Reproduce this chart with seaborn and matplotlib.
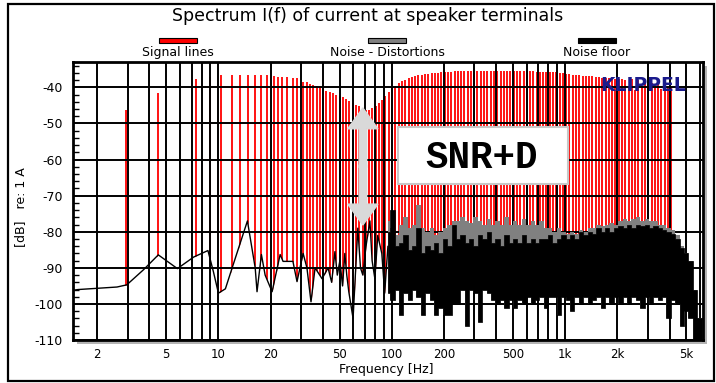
import numpy as np
import matplotlib
matplotlib.use("Agg")
import matplotlib.pyplot as plt
import seaborn as sns
from matplotlib.patches import Rectangle, FancyArrow
from matplotlib.ticker import FixedLocator, LogLocator, MultipleLocator, NullFormatter

# multitone signal lines (Hz, dB)
tone_freq = [2.94, 4.5, 7.4, 8.9, 10.4, 11.9, 13.4, 14.8, 16.3, 17.7, 19.1, 20.8, 22.2, 23.4, 24.8, 27.1, 28.3, 30.9, 32.3,
             33.7, 35.2, 36.8, 38.5, 40.2, 42.0, 43.8, 45.8, 47.8, 50.0, 52.2, 54.5, 57.0, 59.5, 62.2, 64.9, 67.8, 70.8,
             74.0, 77.3, 80.7, 84.3, 88.1, 92.0, 96.1,
             100.4, 104.9, 109.6, 114.5, 119.6, 124.9, 130.5, 136.3, 142.4, 148.7, 155.3, 162.3, 169.5, 177.1, 185.0, 193.2,
             201.8, 210.8, 220.2, 230.1, 240.3, 251.0, 262.2, 273.9, 286.2, 298.9, 312.2, 326.2, 340.7, 355.9, 371.8, 388.4,
             405.7, 423.8, 442.7, 462.4, 483.1, 504.6, 527.1, 550.6, 575.2, 600.8, 627.6, 655.6, 684.9, 715.4, 747.3,
             780.6, 815.5, 851.8, 889.8, 929.5, 971.0,
             1014, 1059, 1107, 1156, 1208, 1262, 1318, 1377, 1438, 1502, 1569, 1639, 1712, 1789, 1868, 1952,
             2039, 2130, 2225, 2324, 2428, 2536, 2649, 2767, 2891, 3020, 3154, 3295, 3442, 3596, 3756, 3924, 4099]
tone_level = [-46.2, -41.6, -37.8, -37.1, -36.7, -36.7, -36.7, -36.7, -36.7, -36.7, -36.7, -37.0, -37.1, -37.1, -37.1,
              -37.3, -37.5, -38.4, -38.6,
              -39.0, -39.4, -39.6, -40.0, -40.5, -41.0, -41.3, -41.7, -42.0, -42.4, -42.7, -43.1, -43.7, -44.3, -44.8,
              -45.3, -45.9, -46.4, -46.3, -45.8, -45.2, -44.4, -43.5, -42.3, -41.2,
              -40.2, -39.6, -38.8, -38.3, -37.9, -37.5, -37.2, -37.0, -36.7, -36.5, -36.3, -36.2, -36.1, -36.0, -35.9, -35.8,
              -35.8, -35.7, -35.7, -35.6, -35.6, -35.5, -35.5, -35.6, -35.5, -35.5, -35.6, -35.5, -35.5, -35.6, -35.5, -35.5,
              -35.5, -35.6, -35.5, -35.5, -35.6, -35.5, -35.5, -35.6, -35.5, -35.5, -35.6, -35.6, -35.7, -35.7, -35.7,
              -35.8, -35.8, -35.8, -35.8, -35.9, -36.1,
              -36.2, -36.4, -36.5, -36.6, -36.7, -36.8, -36.9, -37.0, -37.0, -37.1, -37.2, -37.3, -37.4, -37.5, -37.5, -37.6,
              -37.6, -37.8, -38.0, -39.5, -37.8, -40.8, -38.0, -39.5, -38.5, -39.8, -38.7, -40.3, -39.0, -40.5, -39.5,
              -40.3, -40.0]

# noise floor, low frequency part (single trace)
low_freq = [1.45, 1.55, 2.6, 2.96, 3.7, 4.5, 5.8, 7.2, 8.7, 9.35, 10.0, 10.97, 12.0, 14.7, 16.3, 16.7, 17.7, 18.6,
            20.4, 22.7, 23.6, 26.9, 28.4, 30.8, 32.4, 34.2, 36.1, 39.6, 42.9, 45.0, 47.0, 48.5, 50.2, 52.0, 53.6,
            55.0, 56.5, 59.8, 63.7, 66.0, 68.1, 71.0, 74.8, 77.0, 79.9, 83.0, 87.6, 91.0, 95.0]
low_db = [-96.2, -96.0, -95.3, -94.7, -90.5, -86.4, -90.2, -87.0, -85.2, -91.0, -97.0, -95.8, -90.0, -77.0, -90.0,
          -96.6, -86.3, -92.0, -96.6, -86.3, -88.2, -88.2, -93.8, -86.0, -90.0, -99.4, -90.0, -93.0, -90.0, -94.0,
          -85.5, -92.0, -88.0, -95.0, -86.0, -92.0, -96.6, -104.0, -79.0, -90.0, -92.0, -84.0, -77.0, -88.0, -93.0,
          -81.0, -86.0, -97.0, -84.0]

# dense part of the spectrum: per band max/min of noise floor, max of noise + distortion
band_freq = [95, 100.7, 106.7, 113.1, 119.9, 127.1, 134.7, 142.8, 151.4, 160.5, 170.1, 180.3, 191.1, 202.6, 214.7,
             227.6, 241.3, 255.7, 271.1, 287.3, 304.6, 322.9, 342.2, 362.8, 384.6, 407.6, 432.1, 458, 485.5, 514.6,
             545.5, 578.2, 612.9, 649.7, 688.7, 730, 773.8, 820.2, 869.4, 921.6, 976.9, 1035, 1098, 1164, 1233, 1307,
             1386, 1469, 1557, 1650, 1749, 1854, 1966, 2084, 2209, 2341, 2481, 2630, 2788, 2955, 3133, 3321, 3520,
             3731, 3955, 4192, 4444, 4711, 4993, 5293, 5610, 5947, 6304]
nf_max = [-80, -74, -84, -83, -81, -85, -84, -79, -86, -84, -85, -83, -86, -82, -84, -78, -82, -81, -83, -82, -84,
          -81, -82, -80, -83, -82, -84, -81, -83, -82, -83, -81, -83, -82, -83, -82, -82, -81, -83, -82, -81, -82,
          -81, -82, -80, -81, -80, -80.5, -79, -80, -79, -80, -79, -78.5, -79, -78, -79, -78, -78.5, -78, -79, -78.5,
          -79, -79.5, -80, -80.5, -82, -84.5, -86, -88, -96, -104, -110]
nf_min = [-97, -99, -96, -103, -97, -99, -96, -98, -103, -97, -99, -103, -101, -103, -103, -100, -100, -96, -106,
          -96, -97, -105, -96, -97, -99, -100, -99, -101, -99, -101, -99, -100, -98, -100, -99, -98, -101, -98, -98,
          -103, -98, -99, -102, -98, -100, -98, -100, -99, -98, -101, -98, -100, -98, -100, -98, -100, -98, -99, -101,
          -98, -100, -98, -99, -98, -104, -99, -100, -106, -102, -104, -110, -110, -110]
nd_max = [-77, -79, -81, -78, -76, -79, -78, -72.5, -79, -80, -79, -81, -80, -79, -78, -77, -77, -76, -77, -77.5,
          -76, -77, -78, -76.5, -78, -77, -78, -76, -78, -77, -78, -76.5, -78, -77, -78, -77, -79, -79, -80, -79, -80,
          -80.5, -80, -80.5, -79.5, -80, -79, -79, -78, -78.5, -78, -77.5, -78, -77, -76.5, -77, -76.5, -76, -77,
          -76.5, -77, -77, -78, -78, -79, -79.5, -81, -84, -86, -88, -96, -104, -110]

x_ticks = [2, 5, 10, 20, 50, 100, 200, 500, 1000, 2000, 5000]
x_tick_labels = ["2", "5", "10", "20", "50", "100", "200", "500", "1k", "2k", "5k"]
y_ticks = [-110, -100, -90, -80, -70, -60, -50, -40]

sns.set_theme(style="white")
plt.rcParams["font.family"] = ["DejaVu Sans"]
plt.rcParams["axes.unicode_minus"] = False
plt.rcParams["text.color"] = "black"
plt.rcParams["xtick.color"] = "black"
plt.rcParams["ytick.color"] = "black"

fig = plt.figure(figsize=(7.16, 3.83), dpi=100)
ax = fig.add_axes([0.102, 0.112, 0.880, 0.726])
ax.set_xscale("log")
ax.set_xlim(1.45, 6250)
ax.set_ylim(-110, -33)

# signal lines, masked below the noise trace
ax.vlines(tone_freq, -110, tone_level, color="#ff0000", lw=1.3, zorder=1)
ax.fill_between(low_freq, -110, low_db, color="white", lw=0, zorder=1.2)
ax.fill_between(band_freq, -110, nf_min, color="white", lw=0, step="mid", zorder=1.2)

# noise + distortion (grey) and noise floor (black)
ax.fill_between(band_freq, nf_min, nd_max, color="#808080", lw=0, step="mid", zorder=2)
ax.fill_between(band_freq, nf_min, nf_max, color="black", lw=0.5, edgecolor="black", step="mid", zorder=2.1)
sns.lineplot(x=low_freq, y=low_db, color="black", lw=1.0, ax=ax, zorder=2.2, estimator=None, sort=False)

# grid
ax.set_axisbelow("line")
ax.xaxis.set_major_locator(FixedLocator(x_ticks))
ax.xaxis.set_minor_locator(LogLocator(base=10, subs=np.arange(1, 10)))
ax.xaxis.set_minor_formatter(NullFormatter())
ax.set_xticklabels(x_tick_labels)
ax.set_yticks(y_ticks)
ax.yaxis.set_minor_locator(MultipleLocator(2))
ax.grid(True, which="major", color="black", lw=1.4)
ax.grid(True, which="minor", axis="x", color="black", lw=1.4)
ax.tick_params(axis="x", which="both", length=0, labelsize=8.5, pad=6, labelcolor="black")
ax.tick_params(axis="y", which="major", direction="out", length=4, width=1.2, labelsize=9, color="black",
               labelcolor="black")
ax.tick_params(axis="y", which="minor", direction="in", length=4, width=1.0, color="black", left=True)
for s in ax.spines.values():
    s.set_color("black")
    s.set_linewidth(2)

# SNR+D double arrow and box
arrow_kw = dict(width=0.012, head_width=0.048, head_length=0.075, length_includes_head=True,
                transform=ax.transAxes, facecolor="#d9d9d9", edgecolor="#d9d9d9", zorder=5)
ax.add_patch(FancyArrow(0.46, 0.62, 0, 0.215, **arrow_kw))
ax.add_patch(FancyArrow(0.46, 0.63, 0, -0.216, **arrow_kw))
ax.add_patch(Rectangle((0.516, 0.561), 0.270, 0.205, transform=ax.transAxes, facecolor="white",
                       edgecolor="#c8c8c8", lw=1.5, zorder=5))
ax.text(0.648, 0.655, "SNR+D", transform=ax.transAxes, ha="center", va="center", fontsize=27,
        fontweight="bold", family="Liberation Mono", color="black", zorder=6)
ax.text(0.905, 0.915, "KLIPPEL", transform=ax.transAxes, ha="center", va="center", fontsize=13.5,
        fontweight="bold", color="#1a1a8c", zorder=6)

# shadow and frame
fig.patches.append(Rectangle((0.102 + 0.006, 0.112 - 0.01), 0.880, 0.726, transform=fig.transFigure,
                             facecolor="#b4b4b4", edgecolor="none", zorder=-1))
fig.patches.append(Rectangle((0.011, 0.004), 0.986, 0.986, transform=fig.transFigure, fill=False,
                             edgecolor="black", lw=1.6))

# title, legend, axis labels
fig.text(0.514, 0.958, "Spectrum I(f) of current at speaker terminals", ha="center", va="center", fontsize=12.5)
legend_items = [("Signal lines", "#ff0000", 0.222), ("Noise - Distortions", "#808080", 0.514),
                ("Noise floor", "black", 0.807)]
for label, col, x0 in legend_items:
    fig.patches.append(Rectangle((x0, 0.888), 0.053, 0.013, transform=fig.transFigure,
                                 facecolor=col, edgecolor="black", lw=0.8))
    fig.text(x0 + 0.0265, 0.862, label, ha="center", va="center", fontsize=9)
fig.text(0.028, 0.46, "[dB]   re: 1 A", rotation=90, ha="center", va="center", fontsize=9)
fig.text(0.54, 0.034, "Frequency [Hz]", ha="center", va="center", fontsize=9)

fig.savefig("out.png", dpi=100)
